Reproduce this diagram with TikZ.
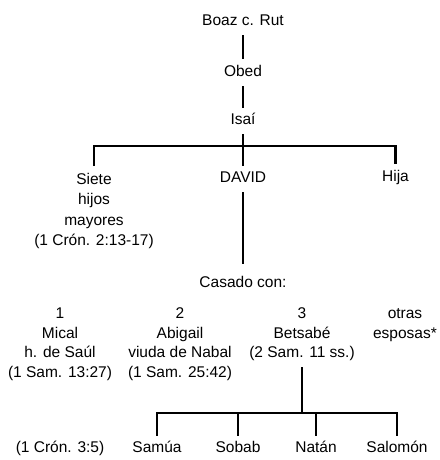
\documentclass[tikz,border=0pt]{standalone}
\usepackage{fontspec}
\setmainfont{Liberation Sans}
\begin{document}
\begin{tikzpicture}[x=1pt,y=-1pt,
  lbl/.style={font=\fontsize{15.5}{19.5}\selectfont, inner sep=3.5pt, align=center, anchor=north},
  wide/.style={font=\fontsize{15.5}{20.5}\selectfont},
  link/.style={line width=2.8pt}]
\useasboundingbox (0,0) rectangle (439,460);
% names
\node[lbl] (boaz) at (243,8.5) {\strut Boaz c. Rut};
\node[lbl] (obed) at (243,59.5) {\strut Obed};
\node[lbl] (isai) at (243,107.5) {\strut Isaí};
\node[lbl,wide] (siete) at (94,166) {\strut Siete\\\strut hijos\\\strut mayores\\\strut (1 Crón. 2:13-17)};
\node[lbl] (david) at (243,165.5) {\strut DAVID};
\node[lbl] (hija) at (395.5,164) {\strut Hija};
\node[lbl] (casado) at (243,270.5) {\strut Casado con:};
\node[lbl] (w1) at (60,301.5) {\strut 1\\\strut Mical\\\strut h. de Saúl\\\strut (1 Sam. 13:27)};
\node[lbl] (w2) at (180,301.5) {\strut 2\\\strut Abigail\\\strut viuda de Nabal\\\strut (1 Sam. 25:42)};
\node[lbl] (w3) at (302,301.5) {\strut 3\\\strut Betsabé\\\strut (2 Sam. 11 ss.)};
\node[lbl] (otras) at (405,301.5) {\strut otras\\\strut esposas*};
\node[lbl] (cron) at (60,435.5) {\strut (1 Crón. 3:5)};
\node[lbl] (samua) at (157,435.5) {\strut Samúa};
\node[lbl] (sobab) at (238,435.5) {\strut Sobab};
\node[lbl] (natan) at (316,435.5) {\strut Natán};
\node[lbl] (salomon) at (397,435.5) {\strut Salomón};
% junctions
\coordinate (j1) at (243,146);
\coordinate (j2) at (302,413);
% connectors
\draw[link] (boaz) -- (obed);
\draw[link] (obed) -- (isai);
\draw[link] (isai) -- (j1);
\draw[link] (siete.north) |- (j1) -| (hija.north);
\draw[link] (j1) -- (david);
\draw[link,shorten >=7pt] (david) -- (casado);
\draw[link] (w3) -- (j2);
\draw[link] (samua.north) |- (j2) -| (salomon.north);
\draw[link] (sobab.north) -- (sobab.north |- j2);
\draw[link] (natan.north) -- (natan.north |- j2);
\end{tikzpicture}
\end{document}
